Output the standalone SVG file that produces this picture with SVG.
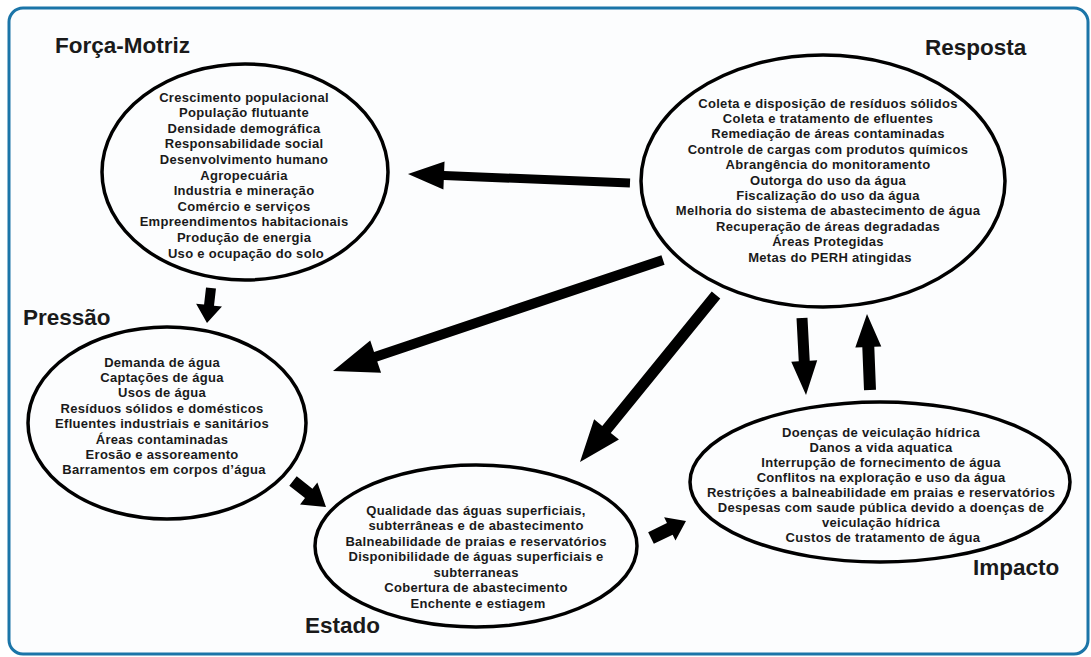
<svg xmlns="http://www.w3.org/2000/svg" width="1091" height="657" viewBox="0 0 1091 657">
<style>
.frame{fill:#fcfdfe;stroke:#1b75a8;stroke-width:3}
.ell{fill:none;stroke:#000;stroke-width:3.5}
.t{font-family:"Liberation Sans",Arial,sans-serif;font-weight:bold;font-size:13px;letter-spacing:0.3px;fill:#1a1a1a;text-anchor:middle}
.title{font-family:"Liberation Sans",Arial,sans-serif;font-weight:bold;font-size:22.5px;fill:#1a1a1a}
.arr{fill:#000;stroke:none}
</style>
<rect width="1091" height="657" fill="#ffffff"/>
<rect class="frame" x="9" y="8" width="1079" height="646" rx="14"/>

<g id="forca-motriz">
<ellipse class="ell" cx="245" cy="172" rx="143" ry="108"/>
<text class="title" x="55" y="53">Força-Motriz</text>
<text class="t" x="246" y="101.5">
<tspan x="246" dy="0">Crescimento populacional</tspan>
<tspan x="246" dy="15.6">População flutuante</tspan>
<tspan x="246" dy="15.6">Densidade demográfica</tspan>
<tspan x="246" dy="15.6">Responsabilidade social</tspan>
<tspan x="246" dy="15.6">Desenvolvimento humano</tspan>
<tspan x="246" dy="15.6">Agropecuária</tspan>
<tspan x="246" dy="15.6">Industria e mineração</tspan>
<tspan x="246" dy="15.6">Comércio e serviços</tspan>
<tspan x="246" dy="15.6">Empreendimentos habitacionais</tspan>
<tspan x="246" dy="15.6">Produção de energia</tspan>
<tspan x="246" dy="15.6">Uso e ocupação do solo</tspan>
</text>
</g>

<g id="resposta">
<ellipse class="ell" cx="823" cy="181" rx="182" ry="126"/>
<text class="title" x="925" y="55">Resposta</text>
<text class="t" x="830" y="107.5">
<tspan x="830" dy="0">Coleta e disposição de resíduos sólidos</tspan>
<tspan x="830" dy="15.4">Coleta e tratamento de efluentes</tspan>
<tspan x="830" dy="15.4">Remediação de áreas contaminadas</tspan>
<tspan x="830" dy="15.4">Controle de cargas com produtos químicos</tspan>
<tspan x="830" dy="15.4">Abrangência do monitoramento</tspan>
<tspan x="830" dy="15.4">Outorga do uso da água</tspan>
<tspan x="830" dy="15.4">Fiscalização do uso da água</tspan>
<tspan x="830" dy="15.4">Melhoria do sistema de abastecimento de água</tspan>
<tspan x="830" dy="15.4">Recuperação de áreas degradadas</tspan>
<tspan x="830" dy="15.4">Áreas Protegidas</tspan>
<tspan x="830" dy="15.4">Metas do PERH atingidas</tspan>
</text>
</g>

<g id="pressao">
<ellipse class="ell" cx="167" cy="423" rx="139" ry="96"/>
<text class="title" x="23" y="325">Pressão</text>
<text class="t" x="164" y="366.5">
<tspan x="164" dy="0">Demanda de água</tspan>
<tspan x="164" dy="15.4">Captações de água</tspan>
<tspan x="164" dy="15.4">Usos de água</tspan>
<tspan x="164" dy="15.4">Resíduos sólidos e domésticos</tspan>
<tspan x="164" dy="15.4">Efluentes industriais e sanitários</tspan>
<tspan x="164" dy="15.4">Áreas contaminadas</tspan>
<tspan x="164" dy="15.4">Erosão e assoreamento</tspan>
<tspan x="164" dy="15.4">Barramentos em corpos d’água</tspan>
</text>
</g>

<g id="estado">
<ellipse class="ell" cx="476" cy="546" rx="161" ry="81"/>
<text class="title" x="305" y="633">Estado</text>
<text class="t" x="478" y="514.5">
<tspan x="478" dy="0">Qualidade das águas superficiais,</tspan>
<tspan x="478" dy="15.5">subterrâneas e de abastecimento</tspan>
<tspan x="478" dy="15.5">Balneabilidade de praias e reservatórios</tspan>
<tspan x="478" dy="15.5">Disponibilidade de águas superficiais e</tspan>
<tspan x="478" dy="15.5">subterraneas</tspan>
<tspan x="478" dy="15.5">Cobertura de abastecimento</tspan>
<tspan x="478" dy="15.5">Enchente e estiagem</tspan>
</text>
</g>

<g id="impacto">
<ellipse class="ell" cx="880" cy="482" rx="190" ry="80"/>
<text class="title" x="973" y="575">Impacto</text>
<text class="t" x="883" y="436.5">
<tspan x="883" dy="0">Doenças de veiculação hídrica</tspan>
<tspan x="883" dy="15.1">Danos a vida aquatica</tspan>
<tspan x="883" dy="15.1">Interrupção de fornecimento de água</tspan>
<tspan x="883" dy="15.1">Conflitos na exploração e uso da água</tspan>
<tspan x="883" dy="15.1">Restrições a balneabilidade em praias e reservatórios</tspan>
<tspan x="883" dy="15.1">Despesas com saude pública devido a doenças de</tspan>
<tspan x="883" dy="15.1">veiculação hídrica</tspan>
<tspan x="883" dy="15.1">Custos de tratamento de água</tspan>
</text>
</g>

<g id="connectors">
<polygon class="arr" points="630.18,178.50 444.15,170.96 444.54,161.47 408,174 443.40,189.45 443.79,179.96 629.82,187.50"/>
<polygon class="arr" points="206.03,287.43 204.07,304.55 196.12,303.64 207,323 221.96,306.60 214.01,305.69 215.97,288.57"/>
<polygon class="arr" points="661.41,255.26 374.06,351.91 370.23,340.54 333,371 381.07,372.76 377.24,361.39 664.59,264.74"/>
<polygon class="arr" points="711.74,291.53 602.26,425.97 594.12,419.34 580,462 618.92,439.54 610.78,432.91 720.26,298.47"/>
<polygon class="arr" points="796.51,318.29 798.75,361.33 791.26,361.71 806,395 817.22,360.37 809.73,360.75 807.49,317.71"/>
<polygon class="arr" points="875.99,389.76 874.30,346.73 881.29,346.46 867,314 855.31,347.48 862.30,347.21 864.01,390.24"/>
<polygon class="arr" points="289.29,485.71 305.00,498.09 300.04,504.38 326,507 317.38,482.38 312.42,488.67 296.71,476.29"/>
<polygon class="arr" points="653.84,543.85 672.65,534.71 675.49,540.55 686,521 664.13,517.17 666.97,523.01 648.16,532.15"/>
</g>
</svg>
